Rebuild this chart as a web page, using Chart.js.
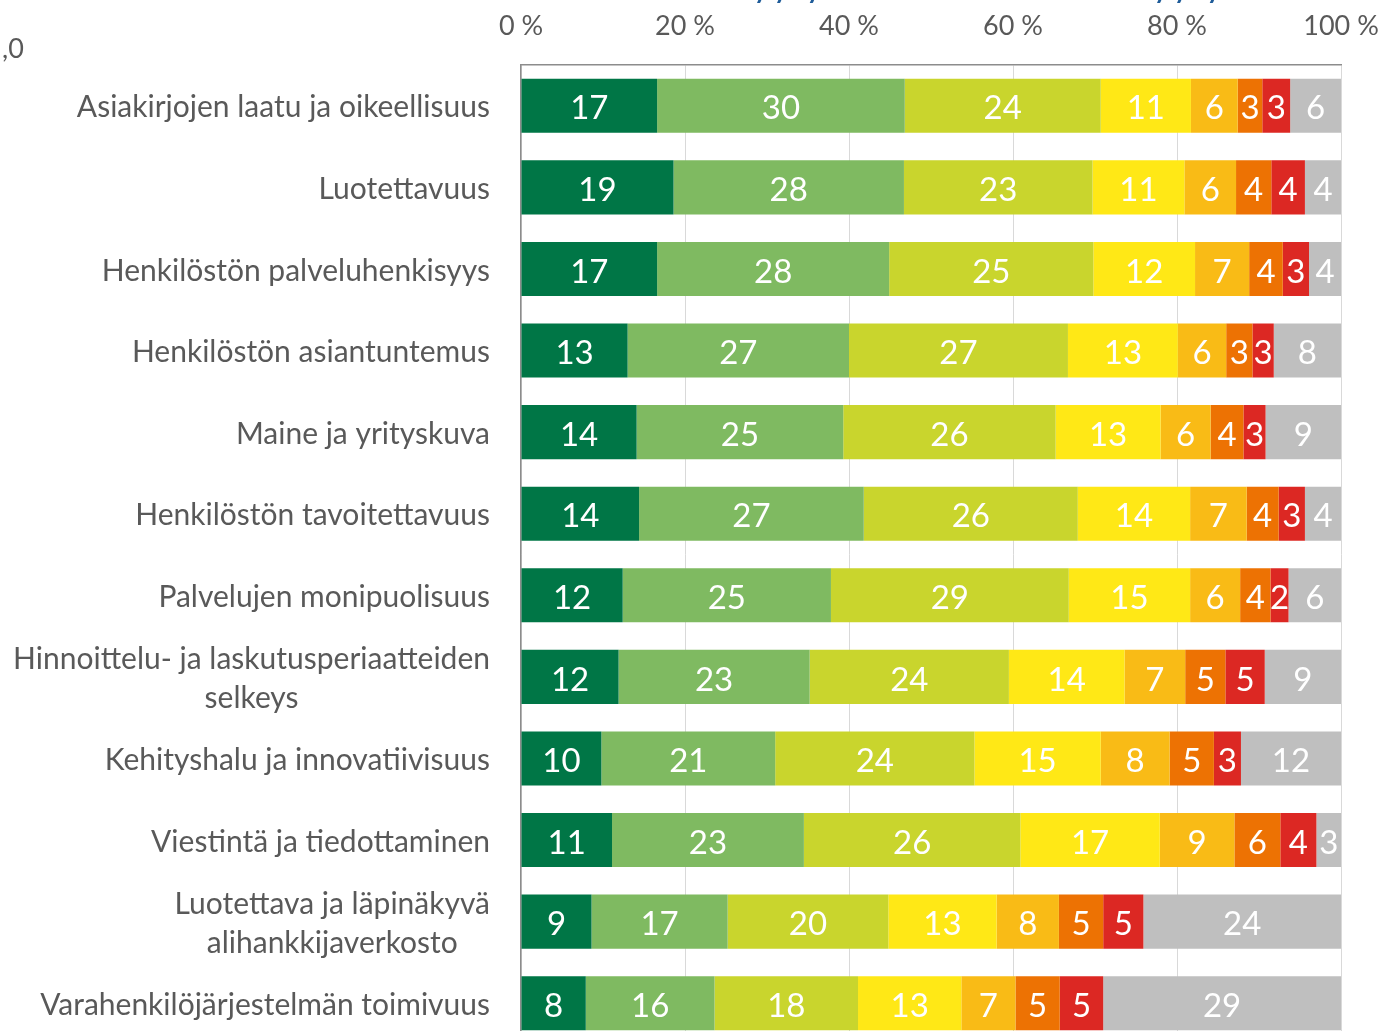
<!DOCTYPE html>
<html>
<head>
<meta charset="utf-8">
<script src="https://cdn.jsdelivr.net/npm/chart.js@4.4.0/dist/chart.umd.min.js"></script>
<style>
html,body{margin:0;padding:0;overflow:hidden;background:#fff;width:1383px;height:1031px}
canvas{display:block}
</style>
</head>
<body>
<canvas id="c" width="1383" height="1060"></canvas>
<script>
const categories = [
  'Asiakirjojen laatu ja oikeellisuus',
  'Luotettavuus',
  'Henkilöstön palveluhenkisyys',
  'Henkilöstön asiantuntemus',
  'Maine ja yrityskuva',
  'Henkilöstön tavoitettavuus',
  'Palvelujen monipuolisuus',
  ['Hinnoittelu- ja laskutusperiaatteiden', 'selkeys'],
  'Kehityshalu ja innovatiivisuus',
  'Viestintä ja tiedottaminen',
  ['Luotettava ja läpinäkyvä', 'alihankkijaverkosto'],
  'Varahenkilöjärjestelmän toimivuus'
];

const seriesNames = ['7', '6', '5', '4', '3', '2', '1', 'En osaa sanoa'];

const s7  = [16.6, 18.6, 16.6, 13.0, 14.1, 14.4, 12.4, 11.9,  9.8, 11.1,  8.6,  7.9];
const s6  = [30.2, 28.1, 28.3, 27.0, 25.2, 27.4, 25.4, 23.3, 21.2, 23.4, 16.6, 15.7];
const s5  = [23.9, 23.0, 24.9, 26.7, 25.9, 26.1, 29.0, 24.3, 24.3, 26.4, 19.6, 17.5];
const s4  = [11.0, 11.2, 12.4, 13.4, 12.8, 13.7, 14.8, 14.1, 15.4, 17.0, 13.2, 12.6];
const s3  = [ 5.7,  6.3,  6.6,  5.9,  6.1,  6.9,  6.1,  7.4,  8.4,  9.1,  7.6,  6.6];
const s2  = [ 3.0,  4.3,  4.1,  3.2,  4.0,  3.9,  3.7,  4.9,  5.4,  5.6,  5.4,  5.4];
const s1  = [ 3.4,  4.1,  3.2,  2.6,  2.7,  3.2,  2.2,  4.8,  3.3,  4.4,  4.9,  5.3];
const eos = [ 6.2,  4.4,  3.9,  8.2,  9.2,  4.4,  6.4,  9.3, 12.2,  3.0, 24.1, 29.0];

const xTicks = [0, 20, 40, 60, 80, 100];

const colors = ['#007646', '#7FBA61', '#C9D52D', '#FFE816', '#F9BB16', '#ED7203', '#DC2823', '#BFBFBF'];
const allSeries = [s7, s6, s5, s4, s3, s2, s1, eos];

const FONT = "Lato, 'Open Sans', sans-serif";
const TEXT = '#595959';

const labelsPlugin = {
  id: 'customLabels',
  afterDatasetsDraw(chart) {
    const ctx = chart.ctx;
    ctx.save();
    ctx.fillStyle = '#FFFFFF';
    ctx.font = '33px ' + FONT;
    ctx.textAlign = 'center';
    ctx.textBaseline = 'middle';
    chart.data.datasets.forEach((ds, di) => {
      const meta = chart.getDatasetMeta(di);
      meta.data.forEach((el, i) => {
        const v = ds.data[i];
        const cx = (el.x + el.base) / 2;
        ctx.fillText(String(Math.round(v)), cx, el.y + 3);
      });
    });
    ctx.restore();
  },
  afterDraw(chart) {
    const ctx = chart.ctx;
    const ys = chart.scales.y;
    ctx.save();
    ctx.fillStyle = TEXT;
    ctx.font = '30px ' + FONT;
    ctx.textBaseline = 'middle';
    ctx.textAlign = 'center';
    const right = ys.right - 31;
    const lh = 39;
    categories.forEach((lab, i) => {
      const lines = Array.isArray(lab) ? lab : [lab];
      const w = Math.max(...lines.map(l => ctx.measureText(l).width));
      const cx = right - w / 2;
      const cy = ys.getPixelForValue(i) + 2;
      lines.forEach((l, k) => {
        ctx.fillText(l, cx, cy + (k - (lines.length - 1) / 2) * lh);
      });
    });
    // cropped fragments at the top-left and title
    ctx.textAlign = 'left';
    ctx.textBaseline = 'alphabetic';
    ctx.font = '27px ' + FONT;
    ctx.fillText(',0', 2, 58);
    ctx.fillStyle = '#1F5C99';
    ctx.font = 'bold 26px ' + FONT;
    ctx.fillText('y y   y', 754, -1);
    ctx.fillText('y y   y', 1154, -1);
    ctx.restore();
  }
};

new Chart(document.getElementById('c'), {
  type: 'bar',
  data: {
    labels: categories,
    datasets: allSeries.map((d, i) => ({
      label: seriesNames[i],
      data: d,
      backgroundColor: colors[i],
      borderWidth: 0,
      categoryPercentage: 1,
      barPercentage: 0.662
    }))
  },
  options: {
    indexAxis: 'y',
    responsive: false,
    animation: false,
    devicePixelRatio: 1,
    layout: { padding: { left: 0, right: 42, top: 0, bottom: 16 } },
    plugins: { legend: { display: false }, tooltip: { enabled: false }, title: { display: false } },
    scales: {
      x: {
        position: 'top',
        stacked: true,
        min: 0,
        max: 100,
        afterBuildTicks(scale) { scale.ticks = xTicks.map(v => ({ value: v })); },
        afterFit(scale) { scale.height = 65; scale.paddingLeft = 0; scale.paddingRight = 0; },
        ticks: {
          color: TEXT,
          font: { family: FONT, size: 27 },
          padding: 23,
          callback: v => v + ' %'
        },
        grid: { color: '#D9D9D9', lineWidth: 1, drawTicks: false },
        border: { display: true, color: '#8C8C8C', width: 1.5 }
      },
      y: {
        stacked: true,
        afterFit(scale) { scale.width = 521; },
        ticks: { display: false },
        grid: { display: false, drawTicks: false },
        border: { display: true, color: '#8C8C8C', width: 1.5 }
      }
    }
  },
  plugins: [labelsPlugin]
});
</script>
</body>
</html>
